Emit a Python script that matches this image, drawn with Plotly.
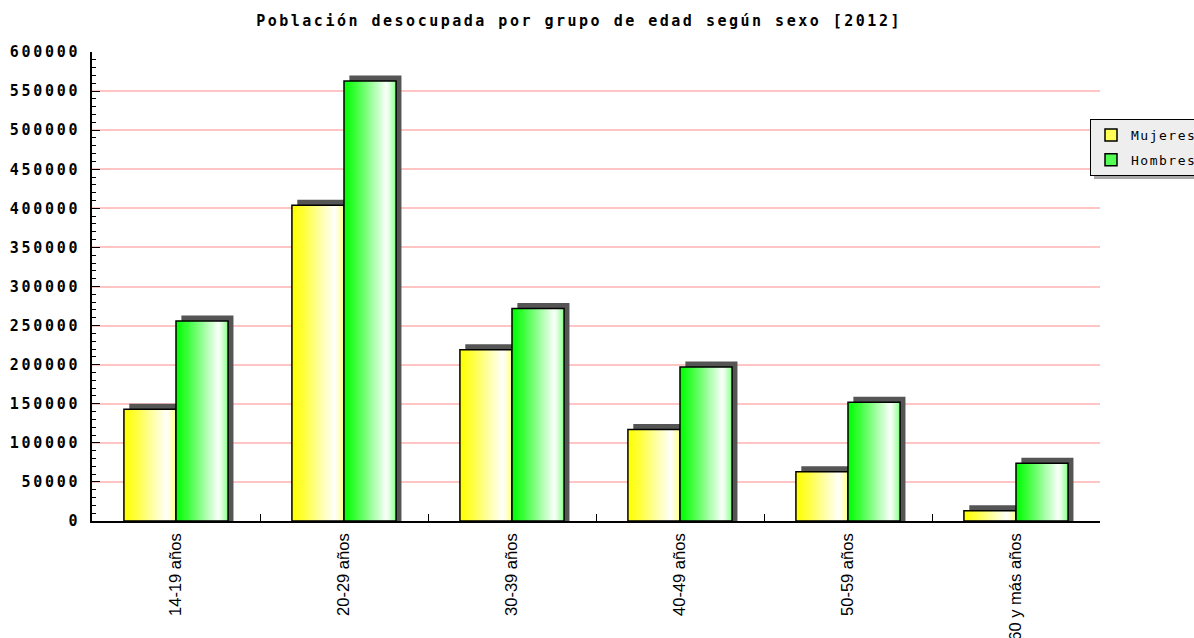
import plotly.graph_objects as go

categories = ["14-19 años", "20-29 años", "30-39 años", "40-49 años", "50-59 años", "60 y más años"]
mujeres = [143000, 404000, 219000, 117000, 63000, 13000]
hombres = [256000, 563000, 272000, 197000, 152000, 74000]
series_names = ["Mujeres", "Hombres"]
title_text = "Población desocupada por grupo de edad según sexo [2012]"
y_ticks = list(range(0, 600001, 50000))

W = 0.31
N = 28
SHX = 0.032
SHY = 7000


def grad_color(base, t):
    # whiteness profile: saturated on the left, white near 82%, slightly back at right edge
    if t < 0.82:
        w = (t / 0.82) ** 1.1
    else:
        w = 1 - (t - 0.82) / 0.18 * 0.45
    r = base[0] + (255 - base[0]) * w
    g = base[1] + (255 - base[1]) * w
    b = base[2] + (255 - base[2]) * w
    return f"rgb({int(r)},{int(g)},{int(b)})"


fig = go.Figure()
specs = [(mujeres, -W, (255, 255, 0), series_names[0]), (hombres, 0.0, (0, 255, 0), series_names[1])]

# shadows
for vals, off, base, name in specs:
    fig.add_trace(go.Bar(x=categories, y=[v + SHY for v in vals], width=W, offset=off + SHX,
                         marker=dict(color="#555555", line=dict(width=0)),
                         showlegend=False, hoverinfo="skip"))

# gradient slices
for vals, off, base, name in specs:
    for i in range(N):
        t = (i + 0.5) / N
        sw = W / N
        fig.add_trace(go.Bar(x=categories, y=vals, width=min(sw * 1.6, W - i * sw), offset=off + i * sw,
                             marker=dict(color=grad_color(base, t), line=dict(width=0)),
                             showlegend=False, hoverinfo="skip"))
    # outline
    fig.add_trace(go.Bar(x=categories, y=vals, width=W, offset=off, name=name,
                         marker=dict(color="rgba(0,0,0,0)", line=dict(color="black", width=1.5)),
                         showlegend=False))

# legend entries
for k, (vals, off, base, name) in enumerate(specs):
    fig.add_trace(go.Bar(x=[categories[0]], y=[None], legendgroup=f"g{k}",
                         name=f'<span style="letter-spacing:1.5px">{name}</span>',
                         marker=dict(color=grad_color(base, 0.3), line=dict(color="black", width=1.5)),
                         showlegend=True))

PH = 469
fig.update_layout(
    width=1194, height=638,
    barmode="overlay",
    plot_bgcolor="white", paper_bgcolor="white",
    margin=dict(l=92, r=94, t=52, b=117, autoexpand=False),
    title=dict(text=f'<span style="letter-spacing:2.5px">{title_text}</span>', x=0.485, xanchor="center",
               y=0.967, yanchor="middle", xref="container",
               font=dict(family="DejaVu Sans Mono", size=15, color="black", weight="bold")),
    legend=dict(x=(1090 - 92) / 1008, xanchor="left", y=(521 - 119) / PH, yanchor="top",
                bgcolor="#eeeeee", bordercolor="black", borderwidth=1,
                font=dict(family="DejaVu Sans Mono", size=13, color="black"),
                itemwidth=30, tracegroupgap=5),
    shapes=[dict(type="rect", xref="paper", yref="paper",
                 x0=(1094 - 92) / 1008, x1=1.2, y0=(521 - 179) / PH, y1=(521 - 123) / PH,
                 fillcolor="#a8a8a8", line=dict(width=0), layer="below")],
    showlegend=True,
)

fig.update_xaxes(range=[-0.5, 5.5], showline=True, linecolor="black", linewidth=1.5,
                 ticks="inside", ticklen=7, tickcolor="black", tickson="boundaries",
                 tickangle=-90, showgrid=False,
                 tickfont=dict(family="Liberation Sans", size=16.5, color="black"), ticklabelstandoff=4)
fig.update_yaxes(range=[0, 600000], showline=True, linecolor="black", linewidth=1.5,
                 tickmode="array", tickvals=y_ticks,
                 ticktext=[f'<span style="letter-spacing:2.7px">{v}</span>' for v in y_ticks],
                 ticks="inside", ticklen=8, tickcolor="black",
                 minor=dict(tickmode="linear", tick0=0, dtick=10000, ticks="inside", ticklen=4,
                            tickcolor="black", showgrid=False),
                 showgrid=True, gridcolor="#ffc4c4", gridwidth=1.6, zeroline=False,
                 tickfont=dict(family="DejaVu Sans Mono", size=15, color="black", weight="bold"),
                 ticklabelstandoff=7)

fig.write_html("out.html")
